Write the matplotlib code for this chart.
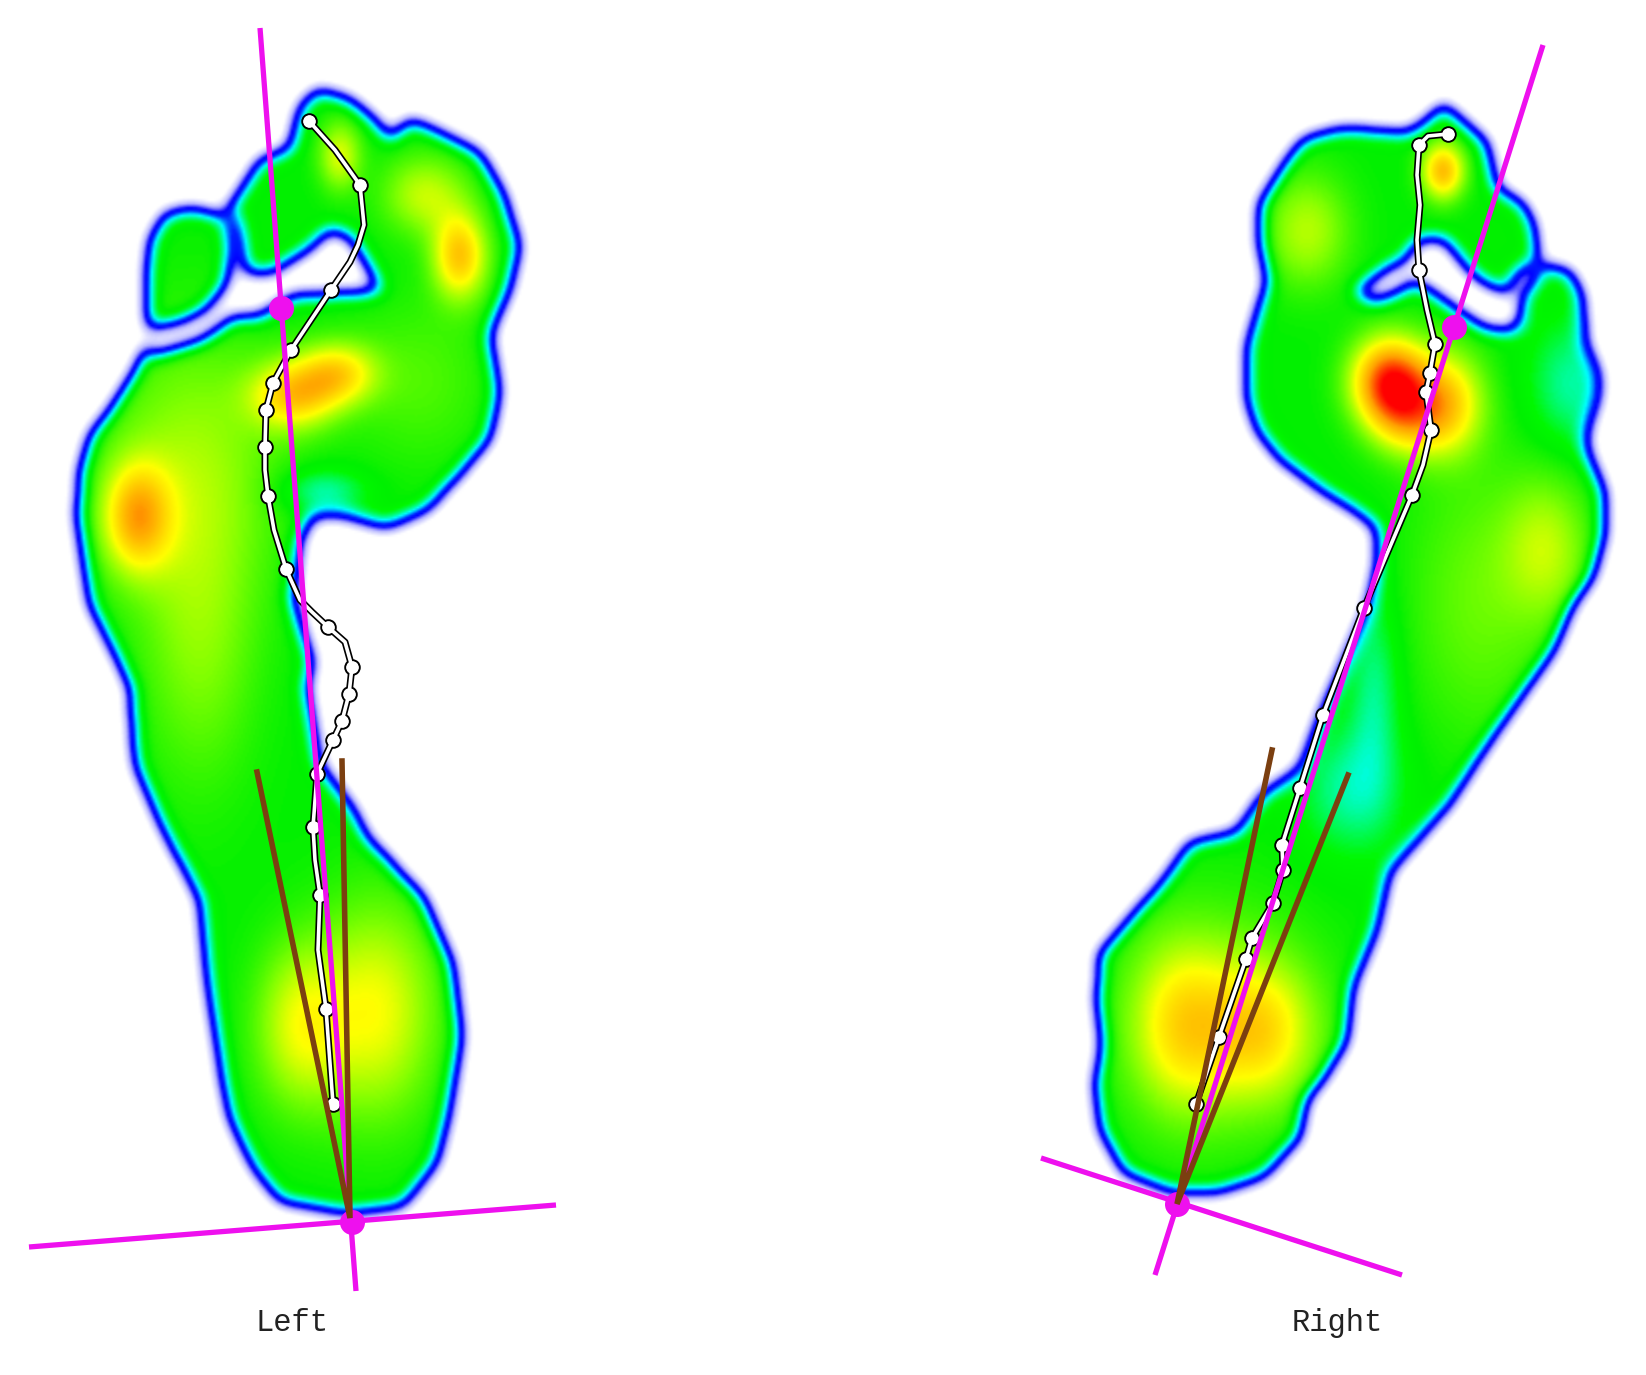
import numpy as np
from matplotlib import pyplot as plt
from matplotlib.colors import LinearSegmentedColormap
from matplotlib.path import Path

# foot outlines (pixels of the reference)
left_outline = [(317,89),(300,106),(290,149),(260,160),(240,192),(223,217),(193,208),(165,214),(150,240),
	(146,280),(148,339),(135,371),(110,410),(90,435),(80,471),(77,517),(83,560),(90,606),(103,630),(130,687),
	(135,765),(160,823),(200,901),(207,979),(223,1085),(230,1119),(253,1168),(280,1202),(347,1214),(403,1207),
	(437,1163),(450,1110),(462,1037),(453,964),(423,896),(367,838),(353,809),(320,765),(307,687),(313,663),
	(293,600),(300,542),(313,514),(337,514),(387,528),(427,510),(457,478),(490,439),(500,392),(490,335),
	(510,289),(520,246),(503,192),(480,153),(437,131),(410,119),(390,140),(377,121),(350,99)]
left_holes = [
	[(217,319),(247,274),(273,272),(313,247),(330,229),(350,237),(382,291),(293,296),(260,316)],
	[(226,215),(231,250),(226,285),(205,310),(180,322),(146,330),(150,356),(200,341),(226,324),(245,276),(243,245),(236,215)]]

right_outline = [(1443,103),(1463,121),(1487,142),(1497,189),(1523,203),(1535,228),(1538,265),(1570,271),
	(1583,296),(1585,342),(1598,371),(1598,399),(1587,431),(1587,449),(1605,492),(1605,535),(1593,578),
	(1573,606),(1554,651),(1490,742),(1450,804),(1390,872),(1377,930),(1353,988),(1347,1042),(1323,1081),
	(1307,1100),(1300,1139),(1263,1178),(1217,1193),(1173,1193),(1123,1173),(1100,1129),(1095,1085),(1102,1047),
	(1097,1003),(1100,954),(1137,911),(1163,882),(1190,843),(1237,833),(1263,794),(1300,770),(1320,717),
	(1367,610),(1378,560),(1377,528),(1353,510),(1323,492),(1280,460),(1257,431),(1247,399),(1247,346),
	(1260,303),(1267,281),(1258,239),(1260,203),(1287,160),(1303,139),(1343,128),(1407,133),(1427,121)]
right_holes = [
	[(1397,271),(1420,238),(1443,238),(1462,262),(1478,280),(1512,296),(1512,332),(1485,328),(1458,310),(1430,290)],
	[(1355,292),(1397,262),(1412,285),(1375,302)],
	[(1533,262),(1515,275),(1506,300),(1510,328),(1520,325),(1523,295),(1540,275)]]

# pressure spots: centre, spread, strength
left_hot_x = [460,425,293,337,137,193,200,340,377,300,323,420]
left_hot_y = [256,195,396,374,517,470,650,156,1012,1027,492,380]
left_hot_sx = [19,30,30,28,24,60,40,15,42,32,30,50]
left_hot_sy = [30,28,24,22,38,100,100,24,75,58,16,60]
left_hot_w = [0.28,0.15,0.25,0.23,0.28,0.12,0.09,0.17,0.19,0.17,-0.11,0.06]

right_hot_x = [1390,1447,1407,1443,1307,1547,1480,1183,1263,1220,1572,1350,1375]
right_hot_y = [381,403,417,171,231,549,600,1027,1032,1020,385,790,690]
right_hot_sx = [26,26,26,15,30,30,50,36,36,70,30,35,18]
right_hot_sy = [30,36,28,20,40,50,100,58,48,80,45,45,70]
right_hot_w = [0.44,0.25,0.20,0.30,0.14,0.13,0.08,0.19,0.19,0.09,-0.10,-0.10,-0.09]

# centre of pressure paths
left_cop_x = [309,335,360,364,358,350,331,311,291,273,266,265,265,268,274,286,300,312,328,345,352,349,342,333,317,313,315,320,318,326,333]
left_cop_y = [121,150,185,225,245,262,290,320,350,383,410,447,470,496,530,569,600,612,627,642,667,694,721,740,774,827,860,895,950,1009,1104]
left_mark_x = [309,360,331,291,273,266,265,268,286,328,352,349,342,333,317,313,320,326,333]
left_mark_y = [121,185,290,350,383,410,447,496,569,627,667,694,721,740,774,827,895,1009,1104]

right_cop_x = [1448,1428,1419,1417,1420,1417,1419,1427,1435,1430,1426,1431,1423,1412,1364,1323,1300,1282,1283,1273,1252,1246,1219,1196]
right_cop_y = [134,136,145,175,205,240,270,310,344,373,392,430,465,495,608,715,788,845,870,903,938,959,1037,1104]
right_mark_x = [1448,1419,1419,1435,1430,1426,1431,1412,1364,1323,1300,1282,1283,1273,1252,1246,1219,1196]
right_mark_y = [134,145,270,344,373,392,430,495,608,715,788,845,870,903,938,959,1037,1104]

labels = ["Left", "Right"]
label_x = [292, 1337]
label_y = [1323, 1323]

# pixel grid, every 2 px
step = 2
gx, gy = np.meshgrid(np.arange(0, 1646, step), np.arange(0, 1375, step))
points = np.column_stack([gx.ravel(), gy.ravel()])

def blur(a, sigma):
	r = int(3 * sigma)
	k = np.exp(-0.5 * (np.arange(-r, r + 1) / sigma) ** 2)
	k = k / k.sum()
	a = np.array([np.convolve(row, k, mode="same") for row in a])
	a = np.array([np.convolve(col, k, mode="same") for col in a.T]).T
	return a

def foot_field(outline, holes, hx, hy, sx, sy, w):
	mask = Path(outline).contains_points(points).reshape(gx.shape).astype(float)
	for h in holes:
		mask[Path(h).contains_points(points).reshape(gx.shape)] = 0
	mask = blur(mask, 9 / step)
	f = np.zeros(gx.shape)
	for i in range(len(hx)):
		f += w[i] * np.exp(-0.5 * (((gx - hx[i]) / sx[i]) ** 2 + ((gy - hy[i]) / sy[i]) ** 2))
	# spots only count inside the foot
	return mask * 0.5 + f * np.clip(mask * 1.6 - 0.5, 0, 1)

field = foot_field(left_outline, left_holes, left_hot_x, left_hot_y, left_hot_sx, left_hot_sy, left_hot_w)
field += foot_field(right_outline, right_holes, right_hot_x, right_hot_y, right_hot_sx, right_hot_sy, right_hot_w)

cmap = LinearSegmentedColormap.from_list("pressure", [
	(0.0, "#ffffff"), (0.04, "#ffffff"), (0.12, "#b4b4ff"), (0.21, "#0000ff"), (0.27, "#0020ff"), (0.36, "#00ffff"),
	(0.47, "#00f800"), (0.50, "#00f000"), (0.60, "#80ff00"), (0.70, "#ffff00"), (0.85, "#ffa000"), (1.0, "#ff0000")])

fig = plt.figure(figsize=(16.46, 13.75), dpi=100)
ax = fig.add_axes([0, 0, 1, 1])
ax.imshow(field, cmap=cmap, vmin=0, vmax=1, extent=(-1, 1645, 1374, -1), interpolation="bilinear", zorder=1)

magenta = "#ee10ee"
brown = "#7b3f10"

# axis lines
ax.plot([260, 356], [28, 1291], color=magenta, lw=3.8, zorder=5, solid_capstyle="butt")
ax.plot([29, 556], [1247, 1205], color=magenta, lw=3.8, zorder=5, solid_capstyle="butt")
ax.plot([1543, 1155], [45, 1275], color=magenta, lw=3.8, zorder=5, solid_capstyle="butt")
ax.plot([1041, 1402], [1158, 1275], color=magenta, lw=3.8, zorder=5, solid_capstyle="butt")
ax.plot([281, 352, 1454, 1177], [308, 1222, 327, 1204], "o", color=magenta, ms=18, mew=0, zorder=6)

# toe angle lines
ax.plot([257, 350, 342], [772, 1218, 761], color=brown, lw=4, zorder=7, solid_joinstyle="miter")
ax.plot([1272, 1177, 1348], [750, 1204, 775], color=brown, lw=4, zorder=7, solid_joinstyle="miter")

# centre of pressure paths
for cx, cy, mx, my in [(left_cop_x, left_cop_y, left_mark_x, left_mark_y), (right_cop_x, right_cop_y, right_mark_x, right_mark_y)]:
	ax.plot(cx, cy, color="black", lw=5, zorder=3)
	ax.plot(mx, my, "o", mfc="white", mec="black", mew=1.4, ms=10.5, zorder=3)
	ax.plot(cx, cy, color="white", lw=2.6, zorder=4)
	ax.plot(mx, my, "o", mfc="white", mew=0, ms=8.5, zorder=4)

for i in range(len(labels)):
	ax.text(label_x[i], label_y[i], labels[i], ha="center", va="center", fontsize=22, color="#222222", family="Liberation Mono")

ax.set_xlim(0, 1646)
ax.set_ylim(1375, 0)
ax.axis("off")

plt.savefig("out.png", dpi=100)
